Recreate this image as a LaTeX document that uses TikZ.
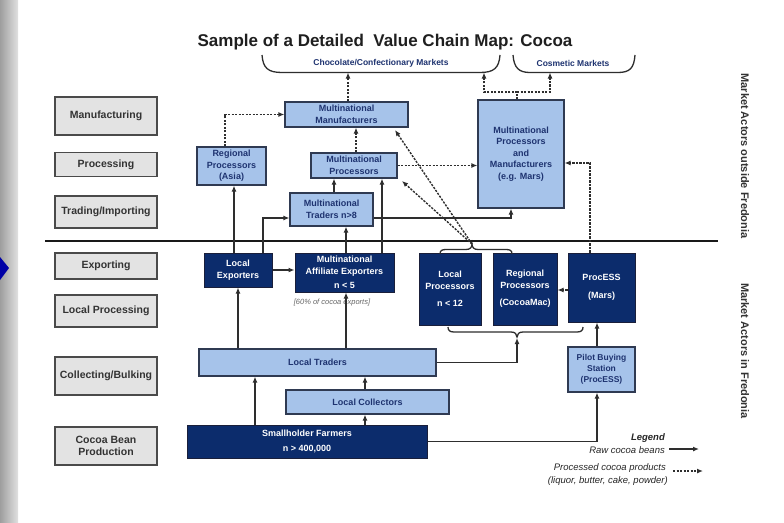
\documentclass[tikz,border=0pt]{standalone}
\usepackage{fontspec}
\setmainfont{Liberation Sans}
\usetikzlibrary{arrows.meta,calc}
\definecolor{labfill}{HTML}{E3E3E3}
\definecolor{labbd}{HTML}{4A4A4A}
\definecolor{labtext}{HTML}{333333}
\definecolor{lbfill}{HTML}{A6C3EA}
\definecolor{lbbd}{HTML}{2F3A52}
\definecolor{navytext}{HTML}{1E3370}
\definecolor{navyfill}{HTML}{0C2C6C}
\definecolor{navybd}{HTML}{1A1F3A}
\definecolor{linecol}{HTML}{2E2E2E}
\definecolor{notecol}{HTML}{666666}
\tikzset{
  lab/.style={draw=labbd, fill=labfill, line width=1.5pt, text=labtext, inner sep=0pt, align=center,
    font=\bfseries\fontsize{10.5}{12.5}\selectfont},
  lbox/.style={draw=lbbd, fill=lbfill, line width=1.2pt, text=navytext, inner sep=0pt, align=center,
    font=\bfseries\fontsize{9}{11.5}\selectfont},
  dbox/.style={draw=navybd, fill=navyfill, line width=1pt, text=white, inner sep=0pt, align=center,
    font=\bfseries\fontsize{9}{12}\selectfont},
  rawline/.style={draw=linecol, line width=1.4pt, -{Latex[length=6pt,width=5pt]}},
  procline/.style={rawline, dash pattern=on 2.2pt off 1.3pt},
  bracepath/.style={draw=linecol, line width=1.3pt},
  brlab/.style={text=navytext, font=\bfseries\fontsize{8.5}{10}\selectfont, inner sep=0pt},
  rotlab/.style={text=labtext, font=\bfseries\fontsize{11}{13}\selectfont, inner sep=0pt, rotate=-90},
  legt/.style={text=black!85, font=\itshape\fontsize{9.5}{11}\selectfont, inner sep=0pt},
}
\begin{document}
\begin{tikzpicture}[x=1pt,y=-1pt]
\useasboundingbox (0,0) rectangle (784,522);
\fill[white] (0,0) rectangle (784,522);
\shade[left color=black!38, right color=black!12] (0,0) rectangle (18,522);
\fill[blue!65!black] (0,257) -- (9,268) -- (0,280) -- cycle;

% title
\node[text=black!88, font=\bfseries\fontsize{17}{20}\selectfont, inner sep=0pt] (title) at (385,42) {Sample of a Detailed\ \ Value Chain Map: Cocoa};

% market braces
\draw[bracepath] (262,55) .. controls (263,68) and (268,72.5) .. (282,72.5) -- (480,72.5) .. controls (494,72.5) and (499,68) .. (500,55);
\draw[bracepath] (513,55) .. controls (514,68) and (519,72.5) .. (530,72.5) -- (618,72.5) .. controls (630,72.5) and (634,68) .. (635,55);
\node[brlab] (choclab) at (381,63) {Chocolate/Confectionary Markets};
\node[brlab] (coslab) at (573,63) {Cosmetic Markets};

% separator
\draw[line width=2.5pt, black!90] (45,241) -- (718,241);

% side labels
\node[rotlab] (outside) at (745,156) {Market Actors outside Fredonia};
\node[rotlab] (inside) at (745,351) {Market Actors in Fredonia};

% stage labels
\node[lab, minimum width=102, minimum height=38] (lab1) at (106,116) {Manufacturing};
\node[lab, minimum width=102, minimum height=24] (lab2) at (106,164.5) {Processing};
\node[lab, minimum width=102, minimum height=32] (lab3) at (106,212) {Trading/Importing};
\node[lab, minimum width=102, minimum height=26] (lab4) at (106,266) {Exporting};
\node[lab, minimum width=102, minimum height=32] (lab5) at (106,311) {Local Processing};
\node[lab, minimum width=102, minimum height=38] (lab6) at (106,376) {Collecting/Bulking};
\node[lab, minimum width=102, minimum height=38] (lab7) at (106,446) {Cocoa Bean\\Production};

% outside actors
\node[lbox, minimum width=123, minimum height=25] (mm) at (346.5,114.5) {Multinational\\Manufacturers};
\node[lbox, minimum width=69, minimum height=38] (rpa) at (231.5,166) {Regional\\Processors\\(Asia)};
\node[lbox, minimum width=86, minimum height=25] (mp) at (354,165.5) {Multinational\\Processors};
\node[lbox, minimum width=83, minimum height=33] (mt) at (331.5,209.5) {Multinational\\Traders n>8};
\node[lbox, minimum width=86, minimum height=108] (mars) at (521,154) {Multinational\\Processors\\and\\Manufacturers\\(e.g. Mars)};

% inside actors
\node[dbox, minimum width=68, minimum height=34] (le) at (238,270) {Local\\Exporters};
\node[dbox, minimum width=99, minimum height=39] (mae) at (344.5,272.5) {Multinational\\Affiliate Exporters\\[2pt]n < 5};
\node[text=notecol, font=\itshape\fontsize{7.5}{9}\selectfont, inner sep=0pt] (note) at (332,303) {[60\% of cocoa exports]};
\node[dbox, minimum width=62, minimum height=72] (lp) at (450,289) {Local\\Processors\\[5pt]n < 12};
\node[dbox, minimum width=64, minimum height=72] (rp) at (525,289) {Regional\\Processors\\[5pt](CocoaMac)};
\node[dbox, minimum width=67, minimum height=69] (pe) at (601.5,287.5) {ProcESS\\[6pt](Mars)};
\node[lbox, minimum width=67, minimum height=45, font=\bfseries\fontsize{8.5}{11}\selectfont] (pbs) at (601.5,369.5) {Pilot Buying\\Station\\(ProcESS)};
\node[lbox, minimum width=237, minimum height=27] (lt) at (317.5,362.5) {Local Traders};
\node[lbox, minimum width=163, minimum height=24] (lc) at (367.5,402) {Local Collectors};
\node[dbox, minimum width=240, minimum height=33, font=\bfseries\fontsize{9}{15}\selectfont] (sf) at (307,441.5) {Smallholder Farmers\\n > 400,000};

% small braces round local / regional processors
\draw[bracepath] (440,254) .. controls (440,250.5) and (442,249.5) .. (446,249.5) -- (466,249.5) .. controls (470,249.5) and (472,247.5) .. (472,244) .. controls (472,247.5) and (474,249.5) .. (478,249.5) -- (506,249.5) .. controls (510,249.5) and (512,250.5) .. (512,254);
\draw[bracepath] (448,327) .. controls (448,330.5) and (450,332) .. (454,332) -- (511,332) .. controls (515,332) and (517,334) .. (517,337) .. controls (517,334) and (519,332) .. (523,332) -- (577,332) .. controls (581,332) and (583,330.5) .. (583,327);

% helper coordinates
\coordinate (ttip) at (472,244);
\coordinate (btip) at (517,338);
\coordinate (choc) at (348,72.5);
\coordinate (chocR) at (484,72.5);
\coordinate (cosL) at (550,72.5);
\coordinate (split) at (517,92);
\coordinate (d1) at (395,130);
\coordinate (d2) at (402,181);
\coordinate (x225) at (225,0);
\coordinate (x234) at (234,0);
\coordinate (x255) at (255,0);
\coordinate (x263) at (263,0);
\coordinate (x334) at (334,0);
\coordinate (x346) at (346,0);
\coordinate (x356) at (356,0);
\coordinate (x365) at (365,0);
\coordinate (x382) at (382,0);
\coordinate (x511) at (511,0);
\coordinate (x517) at (517,0);
\coordinate (x590) at (590,0);
\coordinate (x597) at (597,0);
\coordinate (y163) at (0,163);
\coordinate (y218) at (0,218);
\coordinate (y290) at (0,290);

% raw cocoa beans (solid)
\draw[rawline] (sf.north -| x255) -- (lt.south -| x255);
\draw[rawline] (sf.north -| x365) -- (lc.south -| x365);
\draw[rawline] (lc.north -| x365) -- (lt.south -| x365);
\draw[rawline] (sf.east) -| (pbs.south -| x597);
\draw[rawline] (pbs.north -| x597) -- (pe.south -| x597);
\draw[rawline] (lt.north -| le) -- (le.south);
\draw[rawline] (lt.north -| x346) -- (mae.south -| x346);
\draw[rawline] (le.east) -- (le.east -| mae.west);
\draw[rawline] (lt.east) -| (btip);
\draw[rawline] (le.north -| x234) -- (rpa.south -| x234);
\draw[rawline] (le.north -| x263) |- (mt.west |- y218);
\draw[rawline] (mae.north -| x346) -- (mt.south -| x346);
\draw[rawline] (mae.north -| x382) -- (mp.south -| x382);
\draw[rawline] (mt.north -| x334) -- (mp.south -| x334);
\draw[rawline] (mt.east |- y218) -| (mars.south -| x511);

% processed products (dashed)
\draw[procline] (rpa.north -| x225) |- (mm.west);
\draw[procline] (mp.north -| x356) -- (mm.south -| x356);
\draw[procline] (mp.east) -- (mp.east -| mars.west);
\draw[procline] (mm.north -| choc) -- (choc);
\draw[procline] (mars.north -| x517) -- (split) -| (chocR);
\draw[procline] (split) -| (cosL);
\draw[procline] (pe.north -| x590) |- (mars.east |- y163);
\draw[procline] (ttip) -- (d1);
\draw[procline] (ttip) -- (d2);
\draw[procline] (pe.west |- y290) -- (rp.east |- y290);

% legend
\node[legt, anchor=east, font=\bfseries\itshape\fontsize{9.5}{11}\selectfont] (legh) at (665,438) {Legend};
\node[legt, anchor=east] (leg1) at (665,450) {Raw cocoa beans};
\node[legt, anchor=east] (leg2) at (666,468) {Processed cocoa products};
\node[legt, anchor=east] (leg3) at (668,481) {(liquor, butter, cake, powder)};
\coordinate (la1) at (669,449);
\coordinate (la2) at (699,449);
\coordinate (lb1) at (673,471);
\coordinate (lb2) at (703,471);
\draw[rawline] (la1) -- (la2);
\draw[procline] (lb1) -- (lb2);
\end{tikzpicture}
\end{document}
